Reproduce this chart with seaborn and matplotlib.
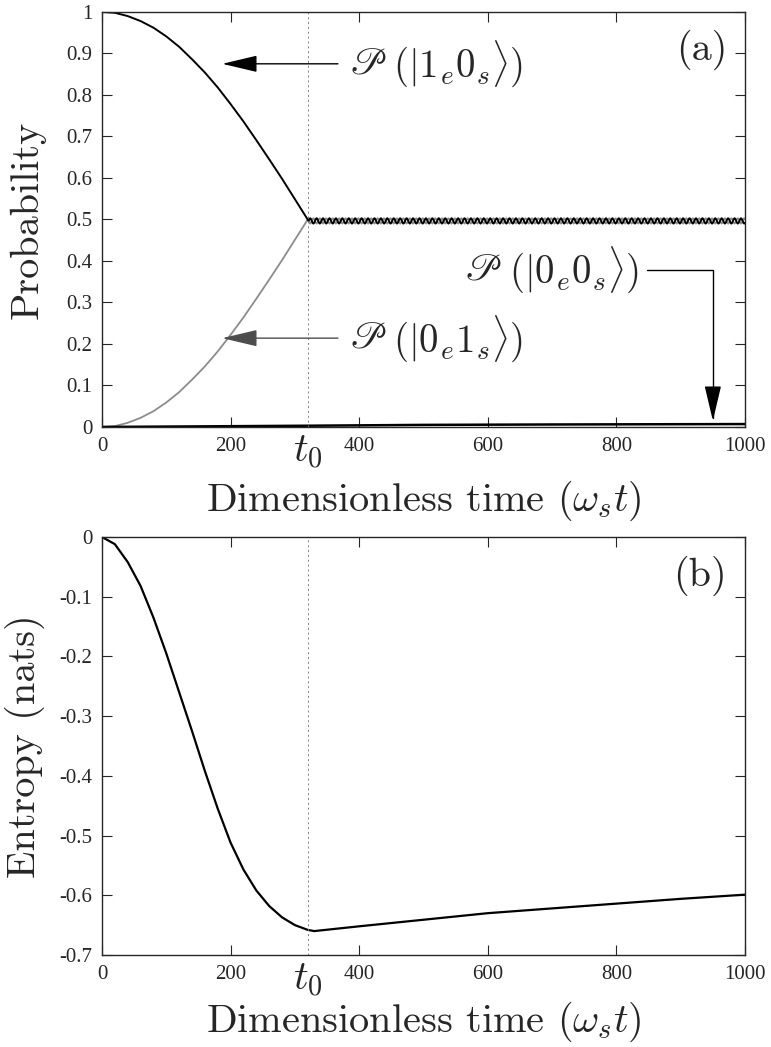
import numpy as np
import pandas as pd
import matplotlib
matplotlib.use("Agg")
import matplotlib.pyplot as plt
import seaborn as sns

# values
t0 = 320

t_rise = [0, 20, 40, 60, 80, 100, 120, 140, 160, 180, 200, 220, 240, 260, 280, 300, 320]
p_1e0s = [1.0, 0.998, 0.990, 0.978, 0.962, 0.941, 0.916, 0.886, 0.854, 0.818,
          0.778, 0.736, 0.691, 0.645, 0.598, 0.549, 0.500]
p_0e1s = [0.0, 0.002, 0.010, 0.022, 0.038, 0.059, 0.084, 0.114, 0.146, 0.182,
          0.222, 0.264, 0.309, 0.355, 0.402, 0.451, 0.500]

# one cycle of the small ripple after t0 (period ~10)
ripple_step = 1.25
ripple_1e0s = [0.4965, 0.501, 0.503, 0.501, 0.4965, 0.492, 0.490, 0.492]
ripple_0e1s = [0.4965, 0.492, 0.490, 0.492, 0.4965, 0.501, 0.503, 0.501]

t_0e0s = [0, 320, 500, 700, 1000]
p_0e0s = [0.0, 0.003, 0.005, 0.006, 0.007]

t_ent = [0, 20, 40, 60, 80, 100, 120, 140, 160, 180, 200, 220, 240, 260, 280,
         300, 320, 330, 400, 500, 600, 700, 800, 900, 1000]
entropy = [0.0, -0.012, -0.042, -0.082, -0.135, -0.195, -0.26, -0.325, -0.392, -0.455,
           -0.512, -0.557, -0.592, -0.618, -0.637, -0.650, -0.658, -0.660, -0.652,
           -0.641, -0.630, -0.622, -0.614, -0.606, -0.599]

xticks = [0, 200, 400, 600, 800, 1000]
yticks_a = [0, 0.1, 0.2, 0.3, 0.4, 0.5, 0.6, 0.7, 0.8, 0.9, 1]
ylabels_a = ["0", "0.1", "0.2", "0.3", "0.4", "0.5", "0.6", "0.7", "0.8", "0.9", "1"]
yticks_b = [0, -0.1, -0.2, -0.3, -0.4, -0.5, -0.6, -0.7]
ylabels_b = ["0", "-0.1", "-0.2", "-0.3", "-0.4", "-0.5", "-0.6", "-0.7"]

# ripple after t0
n_rip = int((1000 - t0) / ripple_step)
t_after = [t0 + ripple_step * (i + 1) for i in range(n_rip)]
a_after = [ripple_1e0s[i % 8] for i in range(n_rip)]
b_after = [ripple_0e1s[i % 8] for i in range(n_rip)]

df_a = pd.DataFrame({"t": t_rise + t_after, "p": p_1e0s + a_after})
df_b = pd.DataFrame({"t": t_rise + t_after, "p": p_0e1s + b_after})
df_c = pd.DataFrame({"t": t_0e0s, "p": p_0e0s})
df_e = pd.DataFrame({"t": t_ent, "s": entropy})

sns.set_style("ticks")
plt.rcParams["font.family"] = ["Liberation Serif", "DejaVu Serif"]
plt.rcParams["mathtext.fontset"] = "cm"
plt.rcParams["axes.unicode_minus"] = False
plt.rcParams["xtick.direction"] = "in"
plt.rcParams["ytick.direction"] = "in"
plt.rcParams["xtick.top"] = True
plt.rcParams["ytick.right"] = True

fig = plt.figure(figsize=(7.71, 10.47), dpi=100)
ax1 = fig.add_axes([0.1323, 0.5922, 0.834, 0.3964])
ax2 = fig.add_axes([0.1323, 0.0879, 0.834, 0.3992])

lab_kw = dict(fontfamily="cmr10", fontsize=29)


def label_state(ax, state, xy, xytext, side="left", color="k"):
    # script P in stix, the ket in computer modern
    arr = dict(arrowstyle="-|>,head_length=1.1,head_width=0.26", color=color, lw=1.0,
               mutation_scale=20, shrinkB=0)
    if side == "left":
        p = ax.annotate(r"$\mathscr{P}$", xy=xy, xytext=xytext, fontsize=28,
                        math_fontfamily="stix", va="center", ha="left",
                        arrowprops=dict(arr, relpos=(0, 0.5), shrinkA=6))
        ax.annotate(r"$(|%s\rangle)$" % state, xy=(1, 0.5), xycoords=p,
                    xytext=(5, 0), textcoords="offset points", va="center", ha="left",
                    fontsize=28)
    else:
        p = ax.annotate(r"$\mathscr{P}$", xy=xytext, fontsize=28,
                        math_fontfamily="stix", va="center", ha="left")
        k = ax.annotate(r"$(|%s\rangle)$" % state, xy=(1, 0.5), xycoords=p,
                        xytext=(5, 0), textcoords="offset points", va="center",
                        ha="left", fontsize=28)
        ax.annotate("", xy=xy, xycoords="data", xytext=(1, 0.5), textcoords=k,
                    arrowprops=dict(arr, shrinkA=6,
                                    connectionstyle="angle,angleA=0,angleB=90,rad=0"))


# ---- panel (a)
sns.lineplot(data=df_b, x="t", y="p", ax=ax1, color="0.55", lw=1.3, estimator=None)
sns.lineplot(data=df_a, x="t", y="p", ax=ax1, color="k", lw=1.4, estimator=None)
sns.lineplot(data=df_c, x="t", y="p", ax=ax1, color="k", lw=1.8, estimator=None)

ax1.axvline(t0, color="0.5", ls=(0, (2, 3)), lw=0.7)
ax1.set_xlim(0, 1000)
ax1.set_ylim(0, 1)
ax1.set_yticks(yticks_a)
ax1.set_yticklabels(ylabels_a)
ax1.set_ylabel("Probability", **lab_kw)
ax1.yaxis.set_label_coords(-0.088, 0.5)

label_state(ax1, "1_e0_s", (187, 0.875), (385, 0.875))
label_state(ax1, "0_e1_s", (187, 0.214), (385, 0.214), color="0.3")
label_state(ax1, "0_e0_s", (950, 0.015), (565, 0.378), side="right")

ax1.text(0.972, 0.908, "(a)", transform=ax1.transAxes, ha="right", va="center",
         **lab_kw)

# ---- panel (b)
sns.lineplot(data=df_e, x="t", y="s", ax=ax2, color="k", lw=1.6, estimator=None)
ax2.axvline(t0, color="0.5", ls=(0, (2, 3)), lw=0.7)
ax2.set_xlim(0, 1000)
ax2.set_ylim(-0.7, 0)
ax2.set_yticks(yticks_b)
ax2.set_yticklabels(ylabels_b)
ax2.set_ylabel("Entropy (nats)", **lab_kw)
ax2.yaxis.set_label_coords(-0.088, 0.5)
ax2.text(0.972, 0.908, "(b)", transform=ax2.transAxes, ha="right", va="center",
         **lab_kw)

for ax, ly in ((ax1, -0.125), (ax2, -0.108)):
    ax.set_xticks(xticks)
    ax.set_xticklabels([str(v) for v in xticks])
    ax.tick_params(labelsize=15, length=7, width=0.8, pad=7)
    for s in ax.spines.values():
        s.set_linewidth(1.0)
    ax.set_xlabel(r"Dimensionless time $(\omega_s t)$", **lab_kw)
    ax.xaxis.set_label_coords(0.5, ly)
    ax.text(t0, -0.015, r"$t_0$", transform=ax.get_xaxis_transform(),
            ha="center", va="top", fontsize=29)

fig.savefig("out.png", dpi=100)
